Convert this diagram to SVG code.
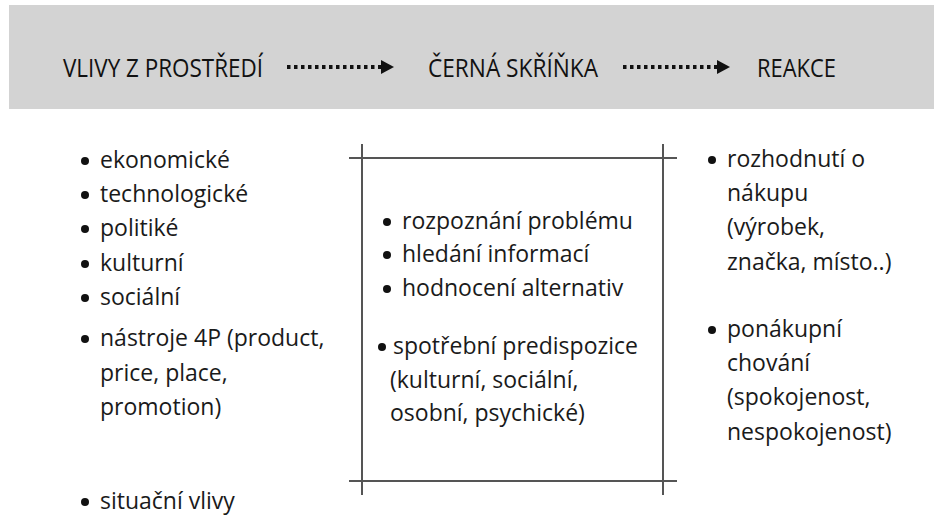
<svg xmlns="http://www.w3.org/2000/svg" width="934" height="516" viewBox="0 0 934 516">
  <defs>
    <style>
      .hdr { font-family: "Open Sans", "Noto Sans", "DejaVu Sans", sans-serif; font-size: 25px; fill: #111; }
      .txt { font-family: "Open Sans", "Noto Sans", "DejaVu Sans", sans-serif; font-size: 23px; fill: #1a1a1a; }
      .dot { fill: #111; }
      .frame { stroke: #555; stroke-width: 2; fill: none; }
      .dotted { stroke: #111; stroke-width: 4; stroke-dasharray: 3.5 3.5; fill: none; }
    </style>
  </defs>
  <rect x="0" y="0" width="934" height="516" fill="#ffffff"/>
  <rect id="band" x="9" y="5" width="925" height="104" fill="#d3d3d3"/>

  <g id="header-vlivy">
    <text class="hdr" x="63" y="77" textLength="200" lengthAdjust="spacingAndGlyphs">VLIVY Z PROSTŘEDÍ</text>
  </g>
  <g id="header-cerna">
    <text class="hdr" x="428" y="77" textLength="170" lengthAdjust="spacingAndGlyphs">ČERNÁ SKŘÍŇKA</text>
  </g>
  <g id="header-reakce">
    <text class="hdr" x="757" y="77" textLength="79" lengthAdjust="spacingAndGlyphs">REAKCE</text>
  </g>

  <g id="connectors">
    <line class="dotted" x1="287" y1="67" x2="382" y2="67"/>
    <polygon points="381,60 394,67 381,74" fill="#111"/>
    <line class="dotted" x1="623" y1="67" x2="718" y2="67"/>
    <polygon points="717,60 730,67 717,74" fill="#111"/>
  </g>

  <g id="black-box">
    <line class="frame" x1="349" y1="158" x2="677" y2="158"/>
    <line class="frame" x1="349" y1="481" x2="677" y2="481"/>
    <line class="frame" x1="362" y1="144" x2="362" y2="495"/>
    <line class="frame" x1="663" y1="144" x2="663" y2="495"/>
  </g>

  <g id="left-list">
    <circle class="dot" cx="85" cy="161" r="4"/>
    <text class="txt" x="100" y="168">ekonomické</text>
    <circle class="dot" cx="85" cy="195" r="4"/>
    <text class="txt" x="100" y="202">technologické</text>
    <circle class="dot" cx="85" cy="229" r="4"/>
    <text class="txt" x="100" y="236">politiké</text>
    <circle class="dot" cx="85" cy="264" r="4"/>
    <text class="txt" x="100" y="271">kulturní</text>
    <circle class="dot" cx="85" cy="298" r="4"/>
    <text class="txt" x="100" y="305">sociální</text>
    <circle class="dot" cx="85" cy="339" r="4"/>
    <text class="txt" x="100" y="346">nástroje 4P (product,</text>
    <text class="txt" x="100" y="381">price, place,</text>
    <text class="txt" x="100" y="415">promotion)</text>
    <circle class="dot" cx="85" cy="502" r="4"/>
    <text class="txt" x="100" y="509">situační vlivy</text>
  </g>

  <g id="middle-list">
    <circle class="dot" cx="387" cy="222" r="4"/>
    <text class="txt" x="402" y="229">rozpoznání problému</text>
    <circle class="dot" cx="387" cy="255" r="4"/>
    <text class="txt" x="402" y="262">hledání informací</text>
    <circle class="dot" cx="387" cy="289" r="4"/>
    <text class="txt" x="402" y="296">hodnocení alternativ</text>
    <circle class="dot" cx="382" cy="347" r="4"/>
    <text class="txt" x="393" y="354">spotřební predispozice</text>
    <text class="txt" x="390" y="388">(kulturní, sociální,</text>
    <text class="txt" x="390" y="421">osobní, psychické)</text>
  </g>

  <g id="right-list">
    <circle class="dot" cx="712" cy="160" r="4"/>
    <text class="txt" x="727" y="167">rozhodnutí o</text>
    <text class="txt" x="727" y="201">nákupu</text>
    <text class="txt" x="727" y="235">(výrobek,</text>
    <text class="txt" x="727" y="270">značka, místo..)</text>
    <circle class="dot" cx="712" cy="330" r="4"/>
    <text class="txt" x="727" y="337">ponákupní</text>
    <text class="txt" x="727" y="371">chování</text>
    <text class="txt" x="727" y="405">(spokojenost,</text>
    <text class="txt" x="727" y="440">nespokojenost)</text>
  </g>
</svg>
